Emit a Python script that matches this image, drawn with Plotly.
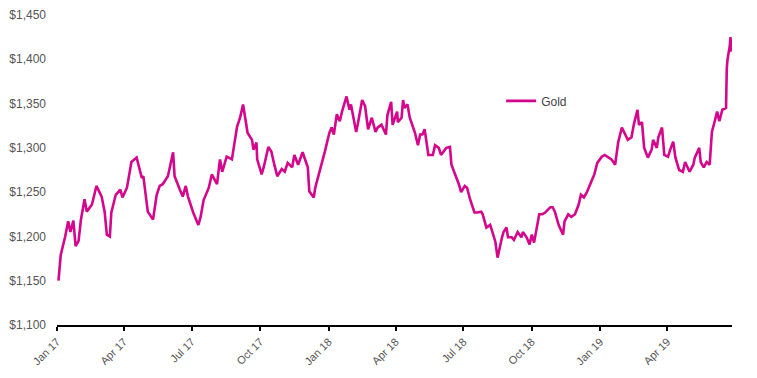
import plotly.graph_objects as go

dates = [
    "2017-01-03", "2017-01-06", "2017-01-12", "2017-01-16", "2017-01-19", "2017-01-23", "2017-01-26",
    "2017-01-30", "2017-02-02", "2017-02-07", "2017-02-10", "2017-02-14", "2017-02-17", "2017-02-23",
    "2017-03-02", "2017-03-06", "2017-03-09", "2017-03-13", "2017-03-15", "2017-03-21", "2017-03-27",
    "2017-03-30", "2017-04-05", "2017-04-11", "2017-04-18", "2017-04-25", "2017-04-27", "2017-05-03",
    "2017-05-10", "2017-05-15", "2017-05-19", "2017-05-23", "2017-05-30", "2017-06-06", "2017-06-08",
    "2017-06-15", "2017-06-19", "2017-06-23", "2017-06-26", "2017-07-03", "2017-07-10", "2017-07-13",
    "2017-07-17", "2017-07-24", "2017-07-28", "2017-08-04", "2017-08-08", "2017-08-11", "2017-08-17",
    "2017-08-24", "2017-08-28", "2017-08-31", "2017-09-04", "2017-09-08", "2017-09-12", "2017-09-14",
    "2017-09-20", "2017-09-22", "2017-09-26", "2017-09-27", "2017-10-03", "2017-10-06", "2017-10-12",
    "2017-10-16", "2017-10-20", "2017-10-24", "2017-10-30", "2017-11-03", "2017-11-07", "2017-11-13",
    "2017-11-16", "2017-11-21", "2017-11-27", "2017-12-04", "2017-12-06", "2017-12-12", "2017-12-14",
    "2017-12-20", "2017-12-27",
    "2018-01-02", "2018-01-05", "2018-01-08", "2018-01-12", "2018-01-16", "2018-01-19", "2018-01-25",
    "2018-01-29", "2018-01-31", "2018-02-07", "2018-02-09", "2018-02-15", "2018-02-19", "2018-02-23",
    "2018-02-28", "2018-03-05", "2018-03-08", "2018-03-13", "2018-03-19", "2018-03-21", "2018-03-26",
    "2018-03-28", "2018-04-03", "2018-04-04", "2018-04-09", "2018-04-11", "2018-04-13", "2018-04-17",
    "2018-04-20", "2018-04-24", "2018-04-27", "2018-05-01", "2018-05-04", "2018-05-07", "2018-05-10",
    "2018-05-15", "2018-05-21", "2018-05-24", "2018-05-29", "2018-06-01", "2018-06-08", "2018-06-13",
    "2018-06-15", "2018-06-20", "2018-06-25", "2018-06-28", "2018-07-03", "2018-07-06", "2018-07-10",
    "2018-07-16", "2018-07-20", "2018-07-25", "2018-07-27", "2018-08-01", "2018-08-06", "2018-08-08",
    "2018-08-13", "2018-08-16", "2018-08-20", "2018-08-22", "2018-08-24", "2018-08-28", "2018-08-30",
    "2018-09-04", "2018-09-07", "2018-09-12", "2018-09-17", "2018-09-19", "2018-09-24", "2018-09-28",
    "2018-10-01", "2018-10-04", "2018-10-11", "2018-10-15", "2018-10-19", "2018-10-26", "2018-10-29",
    "2018-11-01", "2018-11-06", "2018-11-12", "2018-11-14", "2018-11-19", "2018-11-23", "2018-11-28",
    "2018-12-03", "2018-12-06", "2018-12-10", "2018-12-14", "2018-12-20", "2018-12-24", "2018-12-28",
    "2019-01-03", "2019-01-07", "2019-01-11", "2019-01-16", "2019-01-21", "2019-01-25", "2019-01-30",
    "2019-02-04", "2019-02-07", "2019-02-12", "2019-02-15", "2019-02-20", "2019-02-22", "2019-02-26",
    "2019-03-01", "2019-03-06", "2019-03-11", "2019-03-13", "2019-03-18", "2019-03-20", "2019-03-25",
    "2019-03-28", "2019-04-02", "2019-04-05", "2019-04-09", "2019-04-12", "2019-04-17", "2019-04-22",
    "2019-04-25", "2019-05-01", "2019-05-06", "2019-05-08", "2019-05-14", "2019-05-16", "2019-05-20",
    "2019-05-24", "2019-05-28", "2019-05-31", "2019-06-03", "2019-06-05", "2019-06-07", "2019-06-10",
    "2019-06-14", "2019-06-19", "2019-06-20", "2019-06-21", "2019-06-24", "2019-06-25", "2019-06-26",
    "2019-06-27",
]

gold_prices = [
    1150, 1179, 1200, 1217, 1205, 1218, 1189,
    1195, 1218, 1242, 1228, 1232, 1236, 1257,
    1245, 1228, 1202, 1200, 1227, 1247, 1253,
    1244, 1255, 1284, 1289, 1266, 1268, 1228,
    1219, 1247, 1257, 1259, 1268, 1295, 1268,
    1253, 1245, 1257, 1245, 1227, 1213, 1222,
    1241, 1255, 1270, 1259, 1287, 1273, 1290,
    1287, 1309, 1324, 1334, 1349, 1328, 1317,
    1309, 1298, 1306, 1287, 1270, 1279, 1301,
    1296, 1281, 1268, 1276, 1273, 1283, 1278,
    1292, 1281, 1295, 1278, 1251, 1244, 1255,
    1273, 1296,
    1317, 1323, 1315, 1338, 1330, 1341, 1358,
    1343, 1349, 1318, 1326, 1354, 1347, 1321,
    1334, 1318, 1323, 1326, 1315, 1337, 1352,
    1326, 1341, 1329, 1334, 1354, 1345, 1349,
    1334, 1323, 1317, 1303, 1315, 1315, 1321,
    1292, 1292, 1303, 1300, 1292, 1300, 1301,
    1281, 1270, 1259, 1250, 1257, 1255, 1242,
    1227, 1227, 1228, 1225, 1210, 1213, 1208,
    1194, 1176, 1194, 1199, 1205, 1210, 1199,
    1199, 1196, 1205, 1199, 1205, 1199, 1191,
    1202, 1193, 1225, 1225, 1227, 1233, 1233,
    1228, 1213, 1202, 1217, 1225, 1222, 1225,
    1236, 1247, 1244, 1250, 1262, 1270, 1283,
    1290, 1292, 1290, 1287, 1281, 1306, 1323,
    1315, 1309, 1312, 1326, 1343, 1326, 1329,
    1300, 1289, 1298, 1309, 1300, 1312, 1323,
    1292, 1290, 1298, 1307, 1289, 1275, 1273,
    1284, 1273, 1281, 1289, 1300, 1284, 1278,
    1284, 1281, 1318, 1326, 1334, 1341, 1330,
    1343, 1345, 1390, 1400, 1415, 1425, 1410,
    1409,
]

series_name = "Gold"
y_tick_values = [1100, 1150, 1200, 1250, 1300, 1350, 1400, 1450]
y_tick_labels = ["$" + f"{v:,}" for v in y_tick_values]

LINE_COLOR = "#D4068C"
TEXT_COLOR = "#555555"
FONT = "Liberation Sans, Arial, Helvetica, sans-serif"

fig = go.Figure()
fig.add_trace(go.Scatter(
    x=dates, y=gold_prices, mode="lines", name=series_name,
    line=dict(color=LINE_COLOR, width=2.6),
))

# page body adds an 8px offset, so the figure is sized to fit the window
fig.update_layout(
    width=749, height=370,
    margin=dict(l=49, r=25, t=7, b=53, autoexpand=False),
    paper_bgcolor="white", plot_bgcolor="white",
    font=dict(family=FONT, size=12, color=TEXT_COLOR),
    showlegend=True,
    legend=dict(
        x=0.658, y=0.723, xanchor="left", yanchor="middle",
        bgcolor="rgba(0,0,0,0)", font=dict(size=12, color="#444444"),
        itemwidth=30,
    ),
)

fig.update_xaxes(
    type="date",
    range=["2017-01-01", "2019-06-27"],
    tick0="2017-01-01", dtick="M3", tickformat="%b %y",
    tickangle=-45,
    automargin=False,
    showgrid=False, zeroline=False,
    showline=True, linecolor="black", linewidth=2,
    ticks="outside", ticklen=4, tickwidth=2, tickcolor="black",
    tickfont=dict(size=11, color=TEXT_COLOR),
)

fig.update_yaxes(
    range=[1100, 1450],
    tickmode="array", tickvals=y_tick_values, ticktext=y_tick_labels,
    automargin=False,
    showgrid=False, zeroline=False, showline=False,
    ticks="", ticklabelstandoff=10,
    tickfont=dict(size=12, color=TEXT_COLOR),
)

fig.write_html("out.html")
